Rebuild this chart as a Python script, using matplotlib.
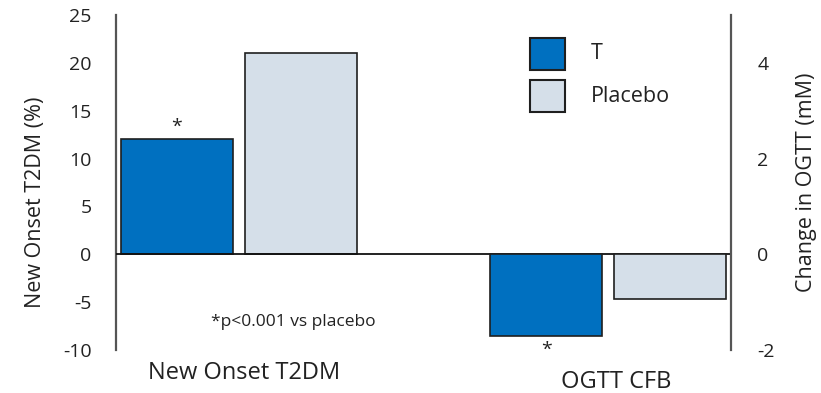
import matplotlib
matplotlib.use("Agg")
import matplotlib.pyplot as plt
from matplotlib.patches import Rectangle

plt.rcParams['font.family'] = ['Open Sans', 'DejaVu Sans']
plt.rcParams['axes.unicode_minus'] = False

# Data
groups = ["New Onset T2DM", "OGTT CFB"]
series = ["T", "Placebo"]
onset_pct = [12, 21]          # New onset T2DM (%), T vs Placebo
ogtt_change = [-1.7, -0.94]   # Change in OGTT (mM), T vs Placebo
left_ticks = [-10, -5, 0, 5, 10, 15, 20, 25]
right_ticks = [-2, 0, 2, 4]

colors = ["#0070C0", "#D5DFE9"]
edge = "#1f1f1f"
text_color = "#222222"

fig = plt.figure(figsize=(8.21, 3.93), dpi=100)
ax = fig.add_axes([116 / 821, 43 / 393, 615 / 821, 335 / 393])
ax2 = ax.twinx()

width = 0.303
offset = 0.168
ax.bar(0 - offset, onset_pct[0], width, color=colors[0], edgecolor=edge, linewidth=1.2, zorder=2)
ax.bar(0 + offset, onset_pct[1], width, color=colors[1], edgecolor=edge, linewidth=1.2, zorder=2)
ax2.bar(1 - offset, ogtt_change[0], width, color=colors[0], edgecolor=edge, linewidth=1.2, zorder=2)
ax2.bar(1 + offset, ogtt_change[1], width, color=colors[1], edgecolor=edge, linewidth=1.2, zorder=2)

ax.set_xlim(-0.333, 1.332)
ax.set_ylim(-10, 25)
ax2.set_ylim(-2, 5)
ax.set_yticks(left_ticks)
ax2.set_yticks(right_ticks)
ax.set_xticks([])
ax.axhline(0, color="#111111", linewidth=1.3, zorder=3)

for a in (ax, ax2):
    for s in ("top", "bottom"):
        a.spines[s].set_visible(False)
    a.tick_params(axis="y", length=0, labelsize=14, colors=text_color)
ax.tick_params(axis="y", pad=17.5)
ax2.tick_params(axis="y", pad=19)
ax.spines["left"].set_color("#555555")
ax.spines["left"].set_linewidth(1.6)
ax.spines["right"].set_visible(False)
ax2.spines["left"].set_visible(False)
ax2.spines["right"].set_color("#555555")
ax2.spines["right"].set_linewidth(1.6)

ax.set_ylabel("New Onset T2DM (%)", fontsize=15.5, color=text_color)
ax.yaxis.set_label_coords(-0.114, 0.44)
ax2.set_ylabel("Change in OGTT (mM)", fontsize=15.5, color=text_color)
ax2.yaxis.set_label_coords(1.106, 0.5)

# Group labels
ax.text(0.015, -12.4, groups[0], ha="center", va="center", fontsize=17, color=text_color, clip_on=False)
ax.text(1.02, -13.3, groups[1], ha="center", va="center", fontsize=17, color=text_color, clip_on=False)

# Significance markers
ax.text(0 - offset, onset_pct[0] + 1.3, "*", ha="center", va="center", fontsize=14, color=text_color)
ax2.text(1 - offset, ogtt_change[0] - 0.3, "*", ha="center", va="center", fontsize=14, color=text_color)
ax.text(0.146, -7.1, "*p<0.001 vs placebo", ha="center", va="center", fontsize=12.5, color=text_color)

# Legend swatches and labels (axes-fraction coordinates)
key_x, key_w, key_h = 0.673, 0.057, 0.0955
key_y = [0.836, 0.7104]
for c, label, y in zip(colors, series, key_y):
    ax.add_patch(Rectangle((key_x, y), key_w, key_h, transform=ax.transAxes,
                           facecolor=c, edgecolor=edge, linewidth=1.5, clip_on=False, zorder=4))
    ax.text(0.772, y + key_h / 2, label, transform=ax.transAxes, ha="left", va="center",
            fontsize=15.5, color=text_color)

fig.savefig("out.png", dpi=100)
